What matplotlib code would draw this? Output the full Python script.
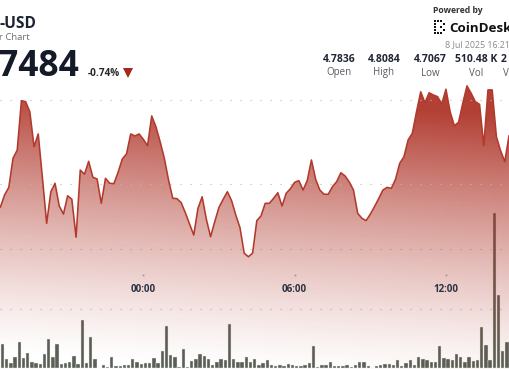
import numpy as np
import pandas as pd
import matplotlib
matplotlib.use("Agg")
import matplotlib.pyplot as plt
import matplotlib.dates as mdates

plt.rcParams["font.family"] = ["Open Sans", "DejaVu Sans"]

# price every 10 minutes, starting 7 Jul 18:10
price = [
    4.7340, 4.7363, 4.7435, 4.7480, 4.7653, 4.7702, 4.7996, 4.7990, 4.7930, 4.7722, 4.7798,
    4.7536, 4.7266, 4.7454, 4.7504, 4.7369, 4.7321, 4.7430, 4.7409, 4.7183, 4.7583,
    4.7558, 4.7635, 4.7540, 4.7530, 4.7385, 4.7534, 4.7504, 4.7502, 4.7570, 4.7649,
    4.7679, 4.7798, 4.7786, 4.7798, 4.7766, 4.7728, 4.7905, 4.7841, 4.7752, 4.7653,
    4.7524, 4.7415, 4.7413, 4.7389, 4.7329, 4.7262, 4.7196, 4.7355, 4.7424, 4.7290,
    4.7186, 4.7276, 4.7361, 4.7409, 4.7454, 4.7401, 4.7315, 4.7240, 4.7088, 4.7067,
    4.7088, 4.7282, 4.7310, 4.7385, 4.7385, 4.7415, 4.7448, 4.7369, 4.7445, 4.7472,
    4.7510, 4.7520, 4.7464, 4.7520, 4.7643, 4.7528, 4.7464, 4.7439, 4.7439, 4.7484,
    4.7514, 4.7567, 4.7548, 4.7512, 4.7464, 4.7326, 4.7296, 4.7282, 4.7320, 4.7365,
    4.7413, 4.7464, 4.7480, 4.7474, 4.7528, 4.7623, 4.7662, 4.7762, 4.7802, 4.7930,
    4.8049, 4.7984, 4.8043, 4.8030, 4.8020, 4.7976, 4.8064, 4.7930, 4.7847, 4.7867,
    4.7980, 4.8084, 4.8040, 4.7990, 4.7974, 4.7728, 4.8060, 4.8060, 4.7782, 4.7698,
    4.7633, 4.7786,
]

# volume (K) per 10-minute bucket, starting 7 Jul 18:20
volume = [
    8.3, 3.3, 1.9, 3.9, 8.7, 3.6, 5.2, 2.0, 1.7, 1.4,
    4.7, 10.0, 3.7, 8.1, 1.4, 1.7, 2.0, 4.1, 1.4, 16.3,
    1.7, 10.4, 3.3, 0.3, 1.1, 0.6, 3.7, 0.8, 0.8, 1.3,
    1.3, 3.2, 2.1, 1.4, 1.9, 1.7, 3.4, 1.9, 5.7, 14.3,
    4.4, 3.7, 0.6, 6.6, 0.6, 2.4, 3.1, 5.0, 4.3, 3.1,
    1.3, 2.0, 3.2, 2.9, 15.0, 3.1, 2.2, 2.0, 3.8, 2.0,
    3.3, 1.1, 1.9, 2.7, 1.3, 0.8, 1.1, 0.9, 1.4, 1.1,
    0.9, 0.9, 1.0, 1.8, 7.6, 0.4, 1.1, 1.3, 2.2, 0.9,
    0.9, 0.9, 1.3, 0.4, 1.3, 2.0, 2.3, 0.8, 0.3, 0.7,
    1.1, 1.6, 1.4, 1.1, 2.8, 0.9, 1.8, 2.8, 1.3, 3.8,
    3.1, 2.8, 2.2, 2.1, 7.6, 3.6, 3.3, 2.8, 4.9, 3.9,
    2.0, 3.7, 2.4, 2.7, 14.0, 8.0, 2.7, 52.0, 24.4, 5.7, 9.0,
]

tick_labels = ["00:00", "06:00", "12:00"]
stat_values = ["4.7836", "4.8084", "4.7067", "510.48 K"]
stat_names = ["Open", "High", "Low", "Vol"]

price_times = pd.date_range("2025-07-07 18:10", periods=len(price), freq="10min")
vol_times = pd.date_range("2025-07-07 18:25", periods=len(volume), freq="10min")
tick_times = pd.to_datetime(["2025-07-08 00:00", "2025-07-08 06:00", "2025-07-08 12:00"])

W, H = 510, 369
fig = plt.figure(figsize=(W / 100, H / 100), dpi=100)
fig.patch.set_facecolor("white")

t0 = mdates.date2num(pd.Timestamp("2025-07-07 18:00"))
x0, x1 = t0 + 1.903 / 144, t0 + 123.24 / 144
pmin, pmax = 4.75 - 185 * 0.05 / 84, 4.75 + 184 * 0.05 / 84

ax_vol = fig.add_axes([0, 0, 1, 1])
ax = fig.add_axes([0, 0, 1, 1])
ax.patch.set_alpha(0)
for a in (ax, ax_vol):
    a.set_axis_off()
    a.set_xlim(x0, x1)
ax.set_ylim(pmin, pmax)
ax_vol.set_ylim(-0.17, 123.0)

dots = (0, (1.0, 8.0))
grid_kw = dict(color="#b8b8b8", lw=0.8, linestyle=dots)

# volume bars
ax_vol.bar(vol_times, volume, width=8.0 / 1440, color="#5a6056",
           edgecolor="#eeeeee", linewidth=0.3, zorder=2)
for v in (20, 40):
    ax_vol.axhline(v, zorder=3, **grid_kw)

# gradient area under price
base = np.array([174, 50, 38]) / 255
rows = np.arange(H)[:, None]
cols = np.arange(W)[None, :]
yy = rows - 0.06 * (cols - 255)
alpha = 0.93 * np.clip((372 - yy) / 272, 0, 1) ** 1.3
img = np.zeros((H, W, 4))
img[..., :3] = base
img[..., 3] = alpha
poly = ax.fill_between(price_times, price, pmin, facecolor="none", edgecolor="none")
im = ax.imshow(img, extent=[x0, x1, pmin, pmax], aspect="auto", origin="upper", zorder=1)
im.set_clip_path(poly.get_paths()[0], transform=ax.transData)

ax.plot(price_times, price, color="#b23a2d", lw=1.15, zorder=4)
for v in (4.75, 4.80):
    ax.axhline(v, zorder=3, **grid_kw)

# x ticks
xtr = ax.get_xaxis_transform()
for t, lab in zip(tick_times, tick_labels):
    ax.plot([t], [1 - 275 / H], marker="s", ms=1.3, color="#9a9a9a", mew=0,
            transform=xtr, zorder=5)
    ax.text(t, 1 - 292.5 / H, lab, transform=xtr, ha="center", va="baseline",
            fontsize=7, fontweight="bold", color="#2b3340", zorder=5)


def ftxt(x, y, s, **kw):
    fig.text(x / W, 1 - y / H, s, **kw)


# header left
ftxt(-1, 28.5, "-USD", fontsize=11.2, fontweight="bold", color="#1c2230")
ftxt(-1, 40.5, "r Chart", fontsize=6.8, color="#6d7078")
ftxt(-2, 76.5, "7484", fontsize=25.5, fontweight="bold", color="#141a28")
ftxt(88, 76.5, "-0.74%", fontsize=7.2, fontweight="bold", color="#2a2a2a")
fig.lines.append(plt.Line2D([128 / W], [1 - 72.5 / H], marker="v", ms=7.5, color="#a3281d",
                            mew=0, transform=fig.transFigure))

# header right
ftxt(433, 13, "Powered by", fontsize=6.2, fontweight="bold", color="#333333")
logo = [(0, 0), (1, 0), (2, 0), (0, 1), (0, 2), (0, 3), (0, 4), (1, 4), (2, 4),
        (3, 1), (3, 3), (2, 2)]
for cx, cy in logo:
    fig.lines.append(plt.Line2D([(435 + cx * 3) / W], [1 - (21 + cy * 2.9) / H], marker="s",
                                ms=1.9, color="#111111", mew=0, transform=fig.transFigure))
ftxt(449, 32, "CoinDesk", fontsize=9.6, fontweight="bold", color="#111111")
ftxt(445, 47.5, "8 Jul 2025 16:21", fontsize=6.4, color="#8a8a8a")

stat_x = [339, 384, 430, 476.5]
for x, val, name in zip(stat_x, stat_values, stat_names):
    ftxt(x, 62.5, val, ha="center", fontsize=7.5, fontweight="bold", color="#1f2633")
    ftxt(x, 75.5, name, ha="center", fontsize=7, color="#555a62")
ftxt(500.5, 62.5, "2", fontsize=7.5, fontweight="bold", color="#1f2633")
ftxt(503, 75.5, "V", fontsize=7, color="#555a62")

fig.savefig("out.png", dpi=100)
